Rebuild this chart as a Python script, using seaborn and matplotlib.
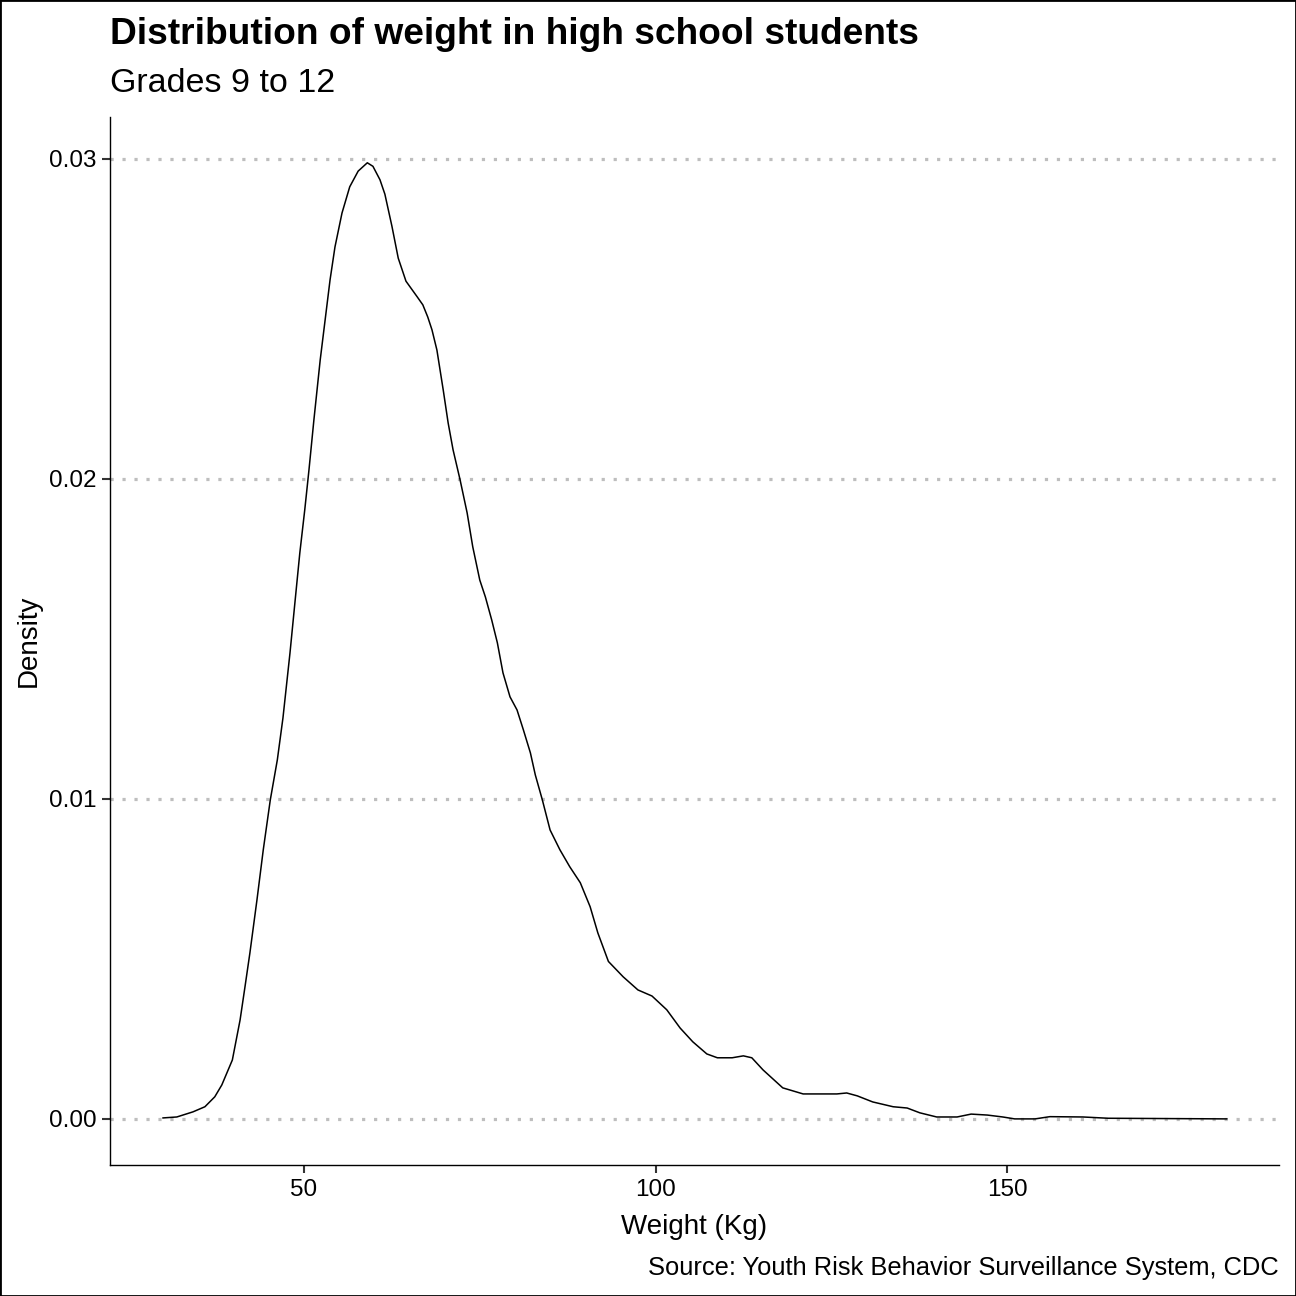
import numpy as np
import pandas as pd
import matplotlib
matplotlib.use("Agg")
import matplotlib.pyplot as plt
import seaborn as sns
from matplotlib.patches import Rectangle
from matplotlib.ticker import FormatStrFormatter

# density curve (weight in kg, density)
weight = [29.9, 31.9, 34.2, 35.9, 37.3, 38.3, 39.8, 40.9, 41.6, 42.3,
          43.3, 44.2, 45.2, 46.2, 47.0, 48.0, 48.7, 49.4, 50.1, 50.7,
          51.4, 52.3, 53.0, 53.7, 54.4, 55.4, 56.5, 57.7, 59.0, 59.8,
          60.8, 61.5, 62.5, 63.4, 64.5, 66.1, 66.9, 67.6, 68.2, 68.9,
          69.8, 70.5, 71.2, 72.2, 73.2, 74.0, 75.0, 75.8, 76.7, 77.5,
          78.3, 79.3, 80.3, 81.2, 82.2, 82.9, 83.9, 85.0, 86.4, 87.8,
          89.3, 90.7, 91.8, 93.3, 95.4, 97.5, 99.5, 101.6, 103.5, 105.3,
          107.3, 108.8, 110.9, 112.5, 113.7, 115.3, 118.1, 121.0, 125.8, 127.2,
          128.7, 130.9, 133.8, 135.8, 137.6, 140.0, 142.9, 144.9, 147.2, 149.4,
          151.1, 154.0, 156.1, 160.8, 164.4, 181.3]
density = [0.00003, 0.00006, 0.00022, 0.00038, 0.00069, 0.00106, 0.00184, 0.00309, 0.00413, 0.00519,
           0.00684, 0.00841, 0.00997, 0.01122, 0.01253, 0.01456, 0.01613, 0.01769, 0.01903, 0.02028,
           0.02184, 0.02372, 0.02497, 0.02622, 0.02725, 0.02831, 0.02913, 0.02962, 0.02988, 0.02977,
           0.02935, 0.02890, 0.02790, 0.02690, 0.02618, 0.02569, 0.02544, 0.02506, 0.02466, 0.02403,
           0.02278, 0.02175, 0.02091, 0.01997, 0.01894, 0.01788, 0.01684, 0.01631, 0.01559, 0.01488,
           0.01394, 0.01319, 0.01278, 0.01216, 0.01144, 0.01075, 0.00997, 0.00903, 0.00841, 0.00788,
           0.00738, 0.00663, 0.00581, 0.00492, 0.00444, 0.00403, 0.00384, 0.00341, 0.00284, 0.00241,
           0.00203, 0.00191, 0.00191, 0.00197, 0.00191, 0.00153, 0.00097, 0.00078, 0.00078, 0.00081,
           0.00072, 0.00053, 0.00038, 0.00034, 0.00019, 0.00006, 0.00006, 0.00015, 0.00012, 0.00006,
           0.0, 0.0, 0.00007, 0.00006, 0.00002, 0.0]

x_ticks = [50, 100, 150]
y_ticks = [0.00, 0.01, 0.02, 0.03]

df = pd.DataFrame({"weight": weight, "density": density})

sns.set_theme(style="white")
plt.rcParams["font.family"] = ["Liberation Sans", "DejaVu Sans"]

fig = plt.figure(figsize=(12.96, 12.96), dpi=100)
ax = fig.add_axes([0.0849, 0.1011, 0.9020, 0.8086])

sns.lineplot(data=df, x="weight", y="density", color="black", linewidth=1.1,
             sort=False, ax=ax)

ax.set_xlim(22.4, 188.7)
ax.set_ylim(-0.00144, 0.03131)
ax.set_xticks(x_ticks)
ax.set_yticks(y_ticks)
ax.yaxis.set_major_formatter(FormatStrFormatter("%.2f"))

# dotted horizontal grid only
ax.yaxis.grid(True, linestyle=(0, (1, 2.75)), color="#BEBEBE", linewidth=2.3)
ax.xaxis.grid(False)
ax.set_axisbelow(True)

for side in ["top", "right"]:
    ax.spines[side].set_visible(False)
for side in ["left", "bottom"]:
    ax.spines[side].set_color("black")
    ax.spines[side].set_linewidth(1.0)

ax.tick_params(axis="both", which="major", direction="out", length=5.8, width=1.5,
               color="#333333", labelsize=17.5, labelcolor="black", pad=4,
               bottom=True, left=True)

ax.set_xlabel("Weight (Kg)", fontsize=20, color="black", labelpad=10)
ax.set_ylabel("Density", fontsize=20, color="black", labelpad=5)

fig.text(0.0849, 1 - 44 / 1296, "Distribution of weight in high school students",
         fontsize=26.7, fontweight="bold", color="black", ha="left", va="baseline")
fig.text(0.0849, 1 - 92 / 1296, "Grades 9 to 12",
         fontsize=24.5, color="black", ha="left", va="baseline")
fig.text(0.9869, 1 - 1275 / 1296, "Source: Youth Risk Behavior Surveillance System, CDC",
         fontsize=18.4, color="black", ha="right", va="baseline")

# plot border
fig.patches.append(Rectangle((0, 0), 1, 1, transform=fig.transFigure, fill=False,
                             edgecolor="black", linewidth=2.0))

fig.savefig("out.png", dpi=100)
